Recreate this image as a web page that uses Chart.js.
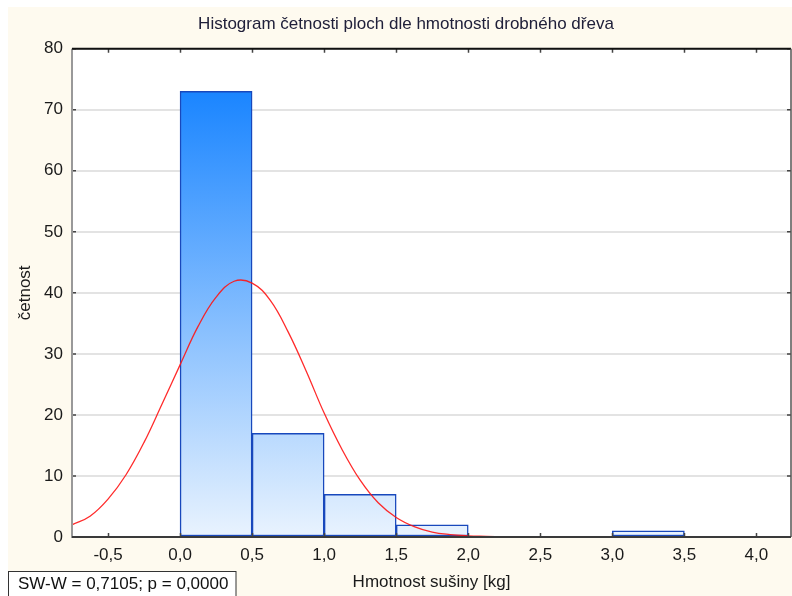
<!DOCTYPE html>
<html lang="cs">
<head>
  <meta charset="UTF-8" />
  <title>Histogram četnosti ploch dle hmotnosti drobného dřeva</title>
  <script src="https://cdn.jsdelivr.net/npm/chart.js"></script>
  <style>
    html, body { margin: 0; padding: 0; background: #fff; overflow: hidden; }
    canvas { display: block; }
  </style>
</head>
<body>
  <canvas id="hist" width="792" height="596"></canvas>

  <script>
    // histogram bins (start of each 0.5 kg bin) and counts
    const binStarts = [0.0, 0.5, 1.0, 1.5, 2.0, 2.5, 3.0];
    const counts = [73, 17, 7, 2, 0, 0, 1];
    const binWidth = 0.5;

    // expected normal curve
    const curveX = [-0.75, -0.625, -0.5, -0.375, -0.25, -0.125, 0.0, 0.125, 0.25, 0.375, 0.5, 0.625,
                    0.75, 0.875, 1.0, 1.125, 1.25, 1.375, 1.5, 1.625, 1.75, 1.875, 2.0, 2.125, 2.25];
    const curveY = [2.0, 3.4, 6.2, 10.2, 15.5, 21.8, 28.2, 34.5, 39.3, 41.9, 41.6, 38.8,
                    33.6, 27.2, 20.3, 14.3, 9.3, 5.6, 3.2, 1.7, 0.8, 0.4, 0.2, 0.1, 0.0];

    const xTicks = [-0.5, 0.0, 0.5, 1.0, 1.5, 2.0, 2.5, 3.0, 3.5, 4.0];
    const yTicks = [0, 10, 20, 30, 40, 50, 60, 70, 80];

    const titleText = "Histogram četnosti ploch dle hmotnosti drobného dřeva";
    const statText = "SW-W = 0,7105; p = 0,0000";

    const FONT = "'Liberation Sans', Arial, sans-serif";
    const cream = '#fefaef';

    // gradient over the whole plot height, dark at the tallest bar
    function barFill(ctx) {
      const chart = ctx.chart;
      const area = chart.chartArea;
      if (!area) return '#8cc2fd';
      const y = chart.scales.y;
      const g = chart.ctx.createLinearGradient(0, y.getPixelForValue(Math.max(...counts)), 0, area.bottom);
      g.addColorStop(0, '#1a85ff');
      g.addColorStop(1, '#e9f3fe');
      return g;
    }

    const frame = {
      id: 'frame',
      beforeDraw(chart) {
        const { ctx, chartArea: a, width, height } = chart;
        ctx.save();
        ctx.fillStyle = '#fff';
        ctx.fillRect(0, 0, width, height);
        ctx.fillStyle = cream;
        ctx.fillRect(8, 7, width - 8, height - 7);
        ctx.fillStyle = '#fff';
        ctx.fillRect(a.left, a.top, a.right - a.left, a.bottom - a.top);
        ctx.restore();
      },
      afterDraw(chart) {
        const { ctx, chartArea: a } = chart;
        const xs = chart.scales.x, ys = chart.scales.y;
        ctx.save();
        // inward tick marks
        ctx.strokeStyle = '#444';
        ctx.lineWidth = 1.5;
        ctx.beginPath();
        xTicks.forEach(v => {
          const px = Math.round(xs.getPixelForValue(v)) + 0.5;
          ctx.moveTo(px, a.bottom); ctx.lineTo(px, a.bottom - 4);
          ctx.moveTo(px, a.top); ctx.lineTo(px, a.top + 4);
        });
        yTicks.forEach(v => {
          const py = ys.getPixelForValue(v);
          ctx.moveTo(a.right, py); ctx.lineTo(a.right - 4, py);
          ctx.moveTo(a.left, py); ctx.lineTo(a.left + 4, py);
        });
        ctx.stroke();
        // plot borders
        ctx.lineWidth = 2;
        ctx.strokeStyle = '#999';
        ctx.beginPath(); ctx.moveTo(a.left, a.top); ctx.lineTo(a.left, a.bottom + 1); ctx.stroke();
        ctx.strokeStyle = '#111';
        ctx.beginPath(); ctx.moveTo(a.left, a.top); ctx.lineTo(a.right, a.top); ctx.stroke();
        ctx.strokeStyle = '#555';
        ctx.lineWidth = 1.5;
        ctx.beginPath(); ctx.moveTo(a.right, a.top); ctx.lineTo(a.right, a.bottom); ctx.stroke();
        ctx.strokeStyle = '#3a3a3a';
        ctx.lineWidth = 2;
        ctx.beginPath(); ctx.moveTo(a.left, a.bottom); ctx.lineTo(a.right, a.bottom); ctx.stroke();

        // title
        ctx.fillStyle = '#20203a';
        ctx.font = '17px ' + FONT;
        ctx.textAlign = 'center';
        ctx.textBaseline = 'middle';
        ctx.fillText(titleText, 406, 24);

        // statistics box
        ctx.fillStyle = '#fff';
        ctx.fillRect(8, 571, 228, 30);
        ctx.strokeStyle = '#333';
        ctx.lineWidth = 1;
        ctx.strokeRect(8.5, 571.5, 227.5, 30);
        ctx.fillStyle = '#111';
        ctx.textAlign = 'left';
        ctx.fillText(statText, 18, 584);
        ctx.restore();
      }
    };

    new Chart(document.getElementById('hist'), {
      data: {
        datasets: [
          {
            type: 'line',
            label: 'Normální rozdělení',
            data: curveX.map((x, i) => ({ x: x, y: curveY[i] })),
            borderColor: 'rgba(255, 20, 20, 0.9)',
            borderWidth: 1.3,
            pointRadius: 0,
            tension: 0.4,
            fill: false,
            order: 0
          },
          {
            type: 'bar',
            label: 'četnost',
            data: binStarts.map((s, i) => ({ x: s + binWidth / 2, y: counts[i] })),
            backgroundColor: barFill,
            borderColor: '#1848bc',
            borderWidth: 1.5,
            borderSkipped: false,
            categoryPercentage: 1.0,
            barPercentage: 1.0,
            order: 1
          }
        ]
      },
      options: {
        responsive: false,
        animation: false,
        devicePixelRatio: 1,
        layout: { padding: { top: 48.7, right: 1, left: 0, bottom: 0 } },
        plugins: {
          legend: { display: false },
          tooltip: { enabled: false },
          title: { display: false }
        },
        scales: {
          x: {
            type: 'linear',
            offset: false,
            min: -0.75,
            max: 4.24,
            afterBuildTicks(scale) { scale.ticks = xTicks.map(v => ({ value: v })); },
            afterFit(scale) { scale.height = 59; },
            grid: { display: false, drawTicks: false, offset: false },
            border: { display: false },
            ticks: {
              autoSkip: false,
              padding: 8,
              color: '#1a1a1a',
              font: { family: FONT, size: 17 },
              maxRotation: 0,
              callback: v => v.toFixed(1).replace('.', ',')
            },
            title: {
              display: true,
              text: 'Hmotnost sušiny [kg]',
              color: '#1a1a1a',
              font: { family: FONT, size: 17 },
              padding: { top: 0, bottom: 3 }
            }
          },
          y: {
            min: 0,
            max: 80,
            afterBuildTicks(scale) { scale.ticks = yTicks.map(v => ({ value: v })); },
            afterFit(scale) { scale.width = 72; },
            grid: { color: '#e3e3e3', lineWidth: 2, drawTicks: false },
            border: { display: false },
            ticks: {
              autoSkip: false,
              padding: 9,
              color: '#1a1a1a',
              font: { family: FONT, size: 17 }
            },
            title: {
              display: true,
              text: 'četnost',
              color: '#1a1a1a',
              font: { family: FONT, size: 17 },
              padding: { top: 15, bottom: 0 }
            }
          }
        }
      },
      plugins: [frame]
    });
  </script>
</body>
</html>
